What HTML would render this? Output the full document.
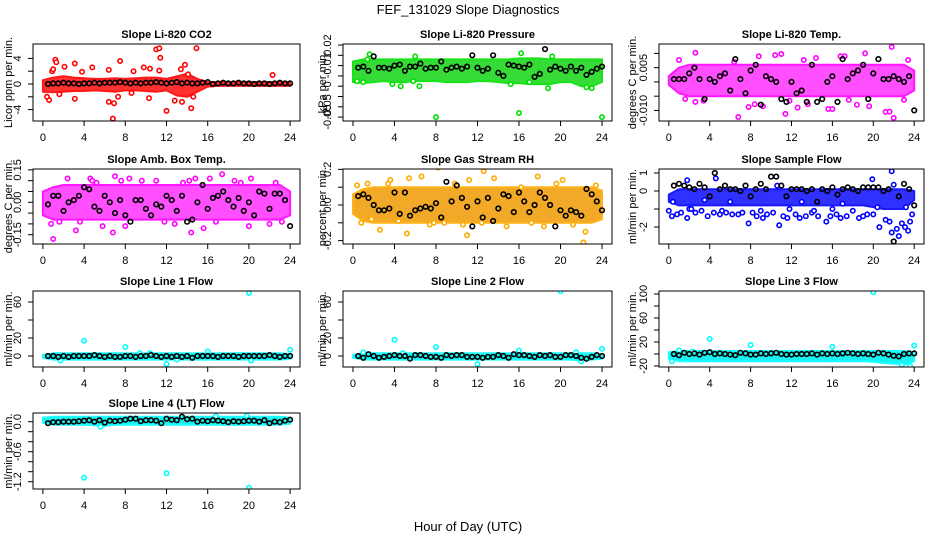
<!DOCTYPE html>
<html><head><meta charset="utf-8">
<style>
html,body{margin:0;padding:0;background:#fff;}
svg{display:block;font-family:"Liberation Sans",Arial,sans-serif;}
</style></head>
<body>
<svg id="chart" width="936" height="540" viewBox="0 0 936 540" xmlns="http://www.w3.org/2000/svg">
<rect width="936" height="540" fill="#fff"/>
<text x="468" y="14" font-size="13" text-anchor="middle">FEF_131029  Slope Diagnostics</text>
<text x="468" y="531" font-size="13" text-anchor="middle">Hour of Day (UTC)</text>
</svg>
<script>
// ---- shared categories ----
const hours = [0.5,1,1.5,2,2.5,3,3.5,4,4.5,5,5.5,6,6.5,7,7.5,8,8.5,9,9.5,10,10.5,11,11.5,12,12.5,13,13.5,14,14.5,15,15.5,16,16.5,17,17.5,18,18.5,19,19.5,20,20.5,21,21.5,22,22.5,23,23.5,24];
const bandHours = [0,1,2,3,4,5,6,7,8,9,10,11,12,13,14,15,16,17,18,19,20,21,22,23,24];
const xTicks = [0,4,8,12,16,20,24];

// ---- CO2 ----
const co2BandLo = [-1.2,-1.3,-1.2,-1.1,-1.1,-1.0,-1.1,-1.2,-1.0,-1.0,-1.1,-1.2,-1.0,-1.8,-2.0,-1.2,-0.4,-0.3,-0.3,-0.3,-0.3,-0.3,-0.3,-0.3,-0.3];
const co2BandHi = [0.6,1.0,1.2,1.0,0.9,0.8,0.8,0.9,0.8,0.9,1.0,1.0,0.8,1.2,1.6,0.8,0.3,0.3,0.3,0.3,0.3,0.3,0.3,0.3,0.3];
const co2OutX = [1.2,1.3,0.9,1.0,0.6,0.4,1.6,2.1,3.1,3.1,3.8,4.8,6.4,6.4,6.8,6.9,7.5,7.3,8.8,8.6,9.8,10.4,10.3,11.0,11.3,11.4,11.3,12.0,12.8,13.5,13.8,14.4,14.6,14.9,22.3,13.4,14.1];
const co2OutY = [3.8,3.4,2.0,2.3,-2.5,-2.0,-1.6,2.7,3.2,-2.3,1.9,2.6,2.2,-2.8,-5.4,-3.0,3.6,-2.0,2.0,-1.4,2.6,2.4,-2.2,5.4,5.6,4.1,2.1,-4.2,-2.6,-2.8,3.0,-3.8,-2.0,5.6,1.4,2.3,1.5];
const co2Black = [0,0.1,0.1,0.2,0.1,0.1,0,0.1,0.1,0.2,0.1,0.2,0.2,0.2,0.3,0.2,0.1,0.2,0.1,0.2,0.2,0.3,0.2,0.1,0.2,0.3,0.1,0.2,0.1,0.1,0.2,0.3,0,0.1,0.2,0.1,0.1,0.2,0.1,0.1,0,0.1,0.1,0,0.1,0.2,0.1,0.1];
const co2Ticks = [-4,-2,0,2,4];
const co2Labels = ["-4","","0","","4"];

// ---- Pressure ----
const prBandHi = [0.004,0.006,0.006,0.006,0.006,0.006,0.006,0.006,0.006,0.006,0.006,0.006,0.006,0.006,0.006,0.006,0.007,0.007,0.007,0.006,0.006,0.006,0.006,0.006,0.006];
const prBandLo = [-0.016,-0.017,-0.016,-0.015,-0.016,-0.016,-0.015,-0.015,-0.015,-0.016,-0.016,-0.016,-0.015,-0.015,-0.016,-0.017,-0.017,-0.018,-0.018,-0.018,-0.016,-0.016,-0.020,-0.020,-0.016];
const prOutX = [1.6,1.4,6.0,6.4,4.6,3.8,5.8,16.2,18.8,22.5,23.0,19.2,8.0,16.0,24.0,0.4,1.0,15.2,17.0];
const prOutY = [0.011,0.006,0.009,-0.020,-0.020,-0.018,-0.015,0.012,-0.022,-0.021,-0.022,0.009,-0.050,-0.046,-0.050,-0.015,-0.016,-0.018,-0.016];
const prBlack = [-0.002,-0.001,-0.005,0.009,-0.002,-0.002,-0.003,0,0.001,-0.005,-0.001,-0.001,0.002,-0.003,-0.002,-0.002,0.004,-0.004,-0.002,-0.001,-0.003,-0.001,0.010,-0.002,-0.005,-0.003,0.010,-0.007,-0.010,0.001,0,-0.001,-0.002,0.001,-0.011,-0.008,0.016,-0.004,-0.001,-0.003,-0.005,-0.001,-0.005,-0.002,-0.009,-0.006,-0.003,-0.001];
const prTicks = [0.02,0.01,0,-0.01,-0.02,-0.03,-0.04,-0.05];
const prLabels = ["0.02","","-0.01","","-0","","-0.05","-0.05"];

// ---- Li-820 Temp ----
const ltBandHi = [0.002,0.005,0.006,0.006,0.006,0.006,0.006,0.006,0.006,0.006,0.006,0.006,0.006,0.006,0.006,0.006,0.006,0.006,0.006,0.006,0.006,0.006,0.006,0.006,0.004];
const ltBandLo = [-0.001,-0.004,-0.005,-0.005,-0.005,-0.005,-0.005,-0.005,-0.005,-0.005,-0.005,-0.005,-0.005,-0.005,-0.005,-0.005,-0.005,-0.005,-0.005,-0.005,-0.005,-0.005,-0.005,-0.005,-0.003];
const ltOutX = [2.6,6.8,11.4,21.8,22.0,21.2,21.6,15.6,16.0,12.6,19.2,17.2,16.8,11.0,10.4,14.4,8.8,13.2,1.0,6.4,23.4,7.8,8.4,9.2,19.6,1.6,2.6,3.4,18.4,23.0,13.6,17.6,11.8];
const ltOutY = [0.0102,-0.0123,-0.0112,0.0123,-0.0126,-0.0105,-0.0104,-0.0095,-0.0095,-0.009,0.010,0.009,0.009,0.0098,0.0094,0.0084,0.009,0.0077,0.0077,0.007,0.0077,-0.0088,-0.0078,-0.0085,-0.0085,-0.006,-0.007,-0.0066,-0.008,-0.0063,-0.0078,-0.0063,-0.0066];
const ltBlack = [0.001,0.001,0.001,0.003,0.005,0.001,-0.006,0.001,0.000,0.002,0.003,-0.003,0.008,0.001,-0.004,0.004,0.006,-0.008,0.002,0.001,0.000,-0.006,-0.007,0.000,-0.004,-0.003,-0.007,0.006,-0.007,-0.006,0.000,0.002,-0.007,0.008,0.001,0.003,0.004,0.006,-0.006,0.003,0.008,0.001,0.001,0.002,0.001,0.000,0.002,-0.010];
const ltTicks = [0.01,0.005,0,-0.005,-0.01];
const ltLabels = ["","0.005","","","-0.010"];

// ---- Amb Box Temp ----
const abBandHi = [0.05,0.07,0.08,0.08,0.08,0.08,0.08,0.08,0.08,0.08,0.08,0.08,0.08,0.08,0.08,0.08,0.08,0.08,0.08,0.08,0.08,0.08,0.08,0.08,0.05];
const abBandLo = [-0.06,-0.08,-0.08,-0.08,-0.08,-0.08,-0.08,-0.08,-0.08,-0.08,-0.08,-0.08,-0.08,-0.08,-0.08,-0.08,-0.08,-0.08,-0.08,-0.08,-0.08,-0.08,-0.08,-0.08,-0.06];
const abOutX = [1.0,2.4,3.2,4.6,4.8,5.8,6.8,7.0,7.6,8.0,8.4,9.6,11.0,11.8,13.6,14.2,14.4,14.8,15.6,16.2,16.8,17.4,18.6,19.2,20.0,20.2,22.0,22.6,23.2,0.8,3.6,12.8,1.6,5.2];
const abOutY = [-0.17,0.11,-0.13,0.11,0.10,-0.11,-0.14,0.12,0.10,-0.11,0.11,0.10,0.10,-0.09,0.09,0.10,-0.14,0.11,-0.12,0.11,-0.09,0.13,0.10,0.09,-0.11,0.11,-0.10,0.09,-0.09,-0.10,-0.09,-0.10,-0.09,0.09];
const abBlack = [-0.01,0.03,0.03,-0.04,0.00,0.01,0.03,0.07,0.06,-0.02,-0.04,0.03,0.00,-0.05,0.01,-0.06,-0.09,0.01,0.01,-0.03,-0.06,-0.01,-0.02,0.03,0.01,-0.04,0.03,-0.09,-0.08,0.00,0.08,-0.03,0.02,0.03,0.05,0.01,-0.02,0.02,-0.04,0.00,-0.06,0.05,0.04,-0.03,0.04,0.04,0.01,-0.11];
const abTicks = [0.15,0.10,0.05,0,-0.05,-0.10,-0.15];
const abLabels = ["0.15","","","0.00","","","-0.15"];

// ---- Gas Stream RH ----
const rhBandHi = [0.06,0.09,0.10,0.10,0.10,0.10,0.10,0.10,0.10,0.10,0.10,0.10,0.10,0.10,0.10,0.10,0.10,0.10,0.10,0.10,0.10,0.10,0.10,0.10,0.08];
const rhBandLo = [-0.05,-0.09,-0.10,-0.10,-0.10,-0.10,-0.10,-0.10,-0.10,-0.10,-0.10,-0.10,-0.10,-0.10,-0.10,-0.10,-0.10,-0.10,-0.10,-0.10,-0.10,-0.10,-0.10,-0.10,-0.08];
const rhOutX = [8.2,12.6,11.0,5.2,22.2,22.4,2.6,17.8,13.6,20.2,5.4,0.4,1.4,1.8,3.6,4.4,6.6,7.4,8.8,9.8,10.6,11.2,12.4,14.8,16.2,17.2,18.4,19.6,21.2,23.4,0.8,3.4,7.8];
const rhOutY = [0.21,0.19,-0.17,-0.16,-0.21,-0.15,-0.14,0.16,0.15,0.14,0.15,0.11,0.12,-0.08,0.14,-0.09,0.16,-0.11,-0.10,0.12,-0.11,0.14,-0.10,-0.12,0.10,-0.10,-0.12,0.12,-0.11,0.11,-0.10,0.12,-0.10];
const rhBlack = [0.05,0.06,0.04,0.00,-0.03,-0.03,-0.02,0.07,-0.05,0.07,-0.06,-0.03,-0.02,-0.01,-0.02,0.01,-0.07,0.13,0.02,0.11,0.04,-0.01,-0.12,0.02,-0.07,0.04,-0.09,-0.02,0.06,0.05,-0.04,0.07,0.02,-0.04,0.00,0.07,0.04,0.00,-0.12,-0.03,-0.06,-0.03,-0.04,-0.06,0.09,0.06,0.02,-0.03];
const rhTicks = [0.2,0.1,0,-0.1,-0.2];
const rhLabels = ["0.2","","0.0","","-0.2"];

// ---- Sample Flow ----
const sfBandHi = [-0.2,0.1,0.1,0.1,0.1,0.1,0.1,0.1,0.1,0.1,0.1,0.1,0.1,0.1,0.1,0.1,0.1,0.1,0.1,0.1,0.1,0.1,0.1,0.1,0.0];
const sfBandLo = [-0.6,-0.8,-0.8,-0.8,-0.8,-0.8,-0.8,-0.8,-0.8,-0.8,-0.8,-0.8,-0.8,-0.8,-0.8,-0.8,-0.8,-0.8,-0.8,-0.8,-0.9,-1.0,-1.0,-1.0,-0.5];
const sfOutX = [0,0.3,0.8,1.2,1.8,2.0,2.6,3.2,3.8,4.4,4.6,5.0,5.6,6.2,6.8,7.8,8.2,8.6,9.2,9.6,10.2,10.8,11.2,11.6,12.4,12.8,13.4,14.0,14.6,15.4,15.8,16.4,16.8,17.4,18.6,19.0,19.4,19.9,20.0,20.6,21.2,21.6,21.8,22.0,21.8,22.3,22.5,22.8,23.1,23.4,23.6,1.8,0.4,3.5,6.0,10.6,13.0,17.0,20.4,23.2,23.8,2.2,5.2,7.2,9.0,11.8,14.2,16.0,18.0];
const sfOutY = [-1.1,-1.4,-1.3,-1.2,-1.5,-1.0,-1.2,-1.1,-1.4,-1.2,0.7,-1.3,-1.2,-1.3,-1.3,-1.8,-1.2,-1.4,-1.5,-1.3,-1.2,-1.9,-1.4,-1.5,-1.3,-1.5,-1.4,-1.2,-1.4,-1.7,-1.4,-1.3,-1.5,-1.4,-1.5,-1.4,-1.3,0.65,-1.3,-2.0,-1.6,-1.7,1.1,0.35,-2.3,-2.1,-2.5,-1.8,-2.0,-2.2,-1.7,0.6,-0.6,-0.5,-0.6,0.3,-0.6,-0.7,-0.9,-0.9,-1.3,-1.0,-1.1,-1.2,-1.1,-1.0,-1.1,-1.0,-1.1];
const sfBlack = [0.3,0.4,0.3,0.2,0.1,0.4,0.2,-0.3,1.0,0.1,0.3,0.1,0.1,0,0.3,-0.3,0.1,0.4,0.1,0.8,0.8,0.3,-0.3,0.1,0.1,0.1,0.0,0.1,-0.6,0.1,0.0,0.2,-0.2,0.1,0.2,0.1,0.0,0.2,0.2,0.2,0.2,0.0,0.1,-2.8,-0.3,0.4,0.1,-0.8];
const sfTicks = [1,0,-1,-2];
const sfLabels = ["1","0","","-2"];

// ---- Line 1 Flow ----
const l1BandHi = [1,3,3,3,3,3,3,3,3,3,3,3,3,3,3,3,3,3,3,3,3,3,3,3,2];
const l1BandLo = [-2,-4,-4,-4,-4,-4,-4,-4,-4,-4,-4,-4,-4,-4,-4,-4,-4,-4,-4,-4,-4,-4,-4,-4,-3];
const l1OutX = [4,8,20,12,24,16,1.7,9.4,10.4,13,20.2];
const l1OutY = [17,10,70,-9,7,5,-5,3,3,-4,-5];
const l1Black = [0,0,-1,0,-1,0,0,0,0,1,0,-1,0,-1,-1,0,0,-1,0,0,1,0,-1,0,-1,0,-1,0,-2,0,0,0,0,-1,0,0,0,-1,0,0,0,0,0,1,0,-1,0,0];
const l1Ticks = [0,20,40,60];
const l1Labels = ["0","20","","60"];

// ---- Line 2 Flow ----
const l2BandHi = [1,3,3,3,3,3,3,3,3,3,3,3,3,3,3,3,3,3,3,3,3,3,3,3,2];
const l2BandLo = [-2,-4,-4,-4,-4,-4,-4,-4,-4,-4,-4,-4,-4,-4,-4,-4,-4,-4,-4,-4,-4,-4,-5,-4,-3];
const l2OutX = [4,8,20,12,24,16,1,22,21.5,4.8];
const l2OutY = [18,10,72,-9,8,6,4,-6,4,3];
const l2Black = [0,-2,2,0,-2,-1,0,1,0,0,-3,1,1,0,-1,-1,-2,1,0,1,1,-1,-1,-1,-2,-1,-1,1,0,-2,2,1,1,0,-1,1,0,1,-1,-1,1,1,0,-2,-3,-1,1,0];
const l2Ticks = [0,20,40,60];
const l2Labels = ["0","20","","60"];

// ---- Line 3 Flow ----
const l3BandHi = [3,5,5,5,5,5,5,5,5,5,5,5,5,5,5,5,5,5,5,5,5,5,5,5,3];
const l3BandLo = [-8,-12,-12,-12,-12,-12,-12,-12,-12,-12,-12,-12,-12,-12,-12,-12,-12,-12,-12,-12,-13,-15,-16,-18,-12];
const l3OutX = [4,20,8,16,24,1,2.3,23.6,22.8,0.3];
const l3OutY = [25,103,15,12,14,6,4,-20,-18,-12];
const l3Black = [0,-2,2,0,1,-1,2,3,0,1,0,-1,-2,2,1,-1,-1,1,0,1,2,0,-1,-1,0,0,0,1,-1,1,0,1,0,1,2,1,0,1,0,-1,2,1,-1,-3,-4,0,1,1];
const l3Ticks = [-20,0,20,40,60,80,100];
const l3Labels = ["-20","","20","","60","","100"];

// ---- Line 4 (LT) Flow ----
const l4BandHi = [0.08,0.10,0.10,0.10,0.10,0.10,0.10,0.10,0.10,0.10,0.10,0.10,0.10,0.10,0.10,0.10,0.10,0.10,0.10,0.10,0.10,0.10,0.10,0.10,0.08];
const l4BandLo = [-0.02,-0.06,-0.06,-0.06,-0.06,-0.07,-0.08,-0.06,-0.06,-0.06,-0.06,-0.06,-0.06,-0.06,-0.06,-0.06,-0.06,-0.06,-0.06,-0.06,-0.06,-0.06,-0.06,-0.06,-0.04];
const l4OutX = [4,12,20,5.6,19.8,16.8];
const l4OutY = [-1.12,-1.03,-1.32,-0.1,0.12,0.11];
const l4Black = [-0.03,-0.01,-0.01,0,0,0,0.01,0.02,0.03,0,0.03,-0.02,0.02,0.01,0.02,0.04,0.06,0.06,0.01,0.03,0.03,0.02,-0.03,0.06,0.04,0.03,0.1,0.05,0.06,0,0.02,0.01,0.03,0.02,0.01,-0.01,0.01,0,0.01,0.02,0.02,0.0,0.03,-0.03,0,-0.01,0.02,0.04];
const l4Ticks = [0,-0.2,-0.4,-0.6,-0.8,-1.0,-1.2];
const l4Labels = ["0.0","","","-0.6","","","-1.2"];

// ---- layout (geometry & styles, not data) ----
const cols = [{x0:33,x1:300,yl:12},{x0:343,x1:612,yl:326},{x0:659,x1:924,yl:636}];
const rows = [{y0:44,y1:121},{y0:169,y1:244},{y0:291,y1:367},{y0:413,y1:489}];
const panels = [
 {name:'co2',title:'Slope Li-820 CO2',ylab:'Licor ppm per min.',c:0,r:0,vt:6.25,vb:-5.78,col:'#ff0000',band:'#ff1a1a',lo:co2BandLo,hi:co2BandHi,ox:co2OutX,oy:co2OutY,bk:co2Black,tk:co2Ticks,tl:co2Labels},
 {name:'pressure',title:'Slope Li-820 Pressure',ylab:'kPa per min.',c:1,r:0,vt:0.021,vb:-0.0538,col:'#00e000',band:'#22d822',lo:prBandLo,hi:prBandHi,ox:prOutX,oy:prOutY,bk:prBlack,tk:prTicks,tl:prLabels},
 {name:'li820-temp',title:'Slope Li-820 Temp.',ylab:'degrees C per min.',c:2,r:0,vt:0.0133,vb:-0.0137,col:'#ff00ff',band:'#ff3cff',lo:ltBandLo,hi:ltBandHi,ox:ltOutX,oy:ltOutY,bk:ltBlack,tk:ltTicks,tl:ltLabels},
 {name:'amb-box-temp',title:'Slope Amb. Box Temp.',ylab:'degrees C per min.',c:0,r:1,vt:0.154,vb:-0.193,col:'#ff00ff',band:'#ff3cff',lo:abBandLo,hi:abBandHi,ox:abOutX,oy:abOutY,bk:abBlack,tk:abTicks,tl:abLabels},
 {name:'gas-stream-rh',title:'Slope Gas Stream RH',ylab:'percent per min.',c:1,r:1,vt:0.202,vb:-0.219,col:'#ffaa00',band:'#f0a010',lo:rhBandLo,hi:rhBandHi,ox:rhOutX,oy:rhOutY,bk:rhBlack,tk:rhTicks,tl:rhLabels},
 {name:'sample-flow',title:'Slope Sample Flow',ylab:'ml/min per min.',c:2,r:1,vt:1.22,vb:-2.94,col:'#0000ff',band:'#1a1aff',lo:sfBandLo,hi:sfBandHi,ox:sfOutX,oy:sfOutY,bk:sfBlack,tk:sfTicks,tl:sfLabels},
 {name:'line1-flow',title:'Slope Line 1 Flow',ylab:'ml/min per min.',c:0,r:2,vt:72.2,vb:-12.2,col:'#00ffff',band:'#00f0f0',lo:l1BandLo,hi:l1BandHi,ox:l1OutX,oy:l1OutY,bk:l1Black,tk:l1Ticks,tl:l1Labels},
 {name:'line2-flow',title:'Slope Line 2 Flow',ylab:'ml/min per min.',c:1,r:2,vt:72.2,vb:-12.2,col:'#00ffff',band:'#00f0f0',lo:l2BandLo,hi:l2BandHi,ox:l2OutX,oy:l2OutY,bk:l2Black,tk:l2Ticks,tl:l2Labels},
 {name:'line3-flow',title:'Slope Line 3 Flow',ylab:'ml/min per min.',c:2,r:2,vt:105,vb:-21.7,col:'#00ffff',band:'#00f0f0',lo:l3BandLo,hi:l3BandHi,ox:l3OutX,oy:l3OutY,bk:l3Black,tk:l3Ticks,tl:l3Labels},
 {name:'line4-flow',title:'Slope Line 4 (LT) Flow',ylab:'ml/min per min.',c:0,r:3,vt:0.174,vb:-1.346,col:'#00ffff',band:'#00f0f0',lo:l4BandLo,hi:l4BandHi,ox:l4OutX,oy:l4OutY,bk:l4Black,tk:l4Ticks,tl:l4Labels}
];

const NS = 'http://www.w3.org/2000/svg';
const svg = document.getElementById('chart');
function mk(tag, attrs, parent){
  const e = document.createElementNS(NS, tag);
  for (const k in attrs) e.setAttribute(k, attrs[k]);
  (parent||svg).appendChild(e);
  return e;
}

panels.forEach(p => {
  const C = cols[p.c], R = rows[p.r];
  const xs = h => C.x0 + (h + 0.96) / 25.92 * (C.x1 - C.x0);
  const ys = v => R.y0 + (p.vt - v) / (p.vt - p.vb) * (R.y1 - R.y0);
  const g = mk('g', {});
  
  

  const clipId = 'clip-' + p.name;
  const cp = mk('clipPath', {id: clipId}, g);
  mk('rect', {x: C.x0, y: R.y0, width: C.x1 - C.x0, height: R.y1 - R.y0}, cp);
  const plot = mk('g', {'clip-path': 'url(#' + clipId + ')'}, g);
  
  

  let pts = [];
  bandHours.forEach((h, i) => pts.push(xs(h).toFixed(1) + ',' + ys(p.hi[i]).toFixed(1)));
  for (let i = bandHours.length - 1; i >= 0; i--) pts.push(xs(bandHours[i]).toFixed(1) + ',' + ys(p.lo[i]).toFixed(1));
  const band = mk('polygon', {points: pts.join(' '), fill: p.band, stroke: p.col, 'stroke-width': 2, 'stroke-linejoin': 'round', opacity: 0.9}, plot);
  
  

  p.ox.forEach((x, i) => {
    const c = mk('circle', {cx: xs(x).toFixed(1), cy: ys(p.oy[i]).toFixed(1), r: 2.2, fill: '#fff', stroke: p.col, 'stroke-width': 1.6}, plot);
    
    
  });
  hours.forEach((h, i) => {
    const c = mk('circle', {cx: xs(h).toFixed(1), cy: ys(p.bk[i]).toFixed(1), r: 2.3, fill: 'none', stroke: '#000', 'stroke-width': 1.6}, plot);
    
    
  });

  const box = mk('rect', {x: C.x0, y: R.y0, width: C.x1 - C.x0, height: R.y1 - R.y0, fill: 'none', stroke: '#000', 'stroke-width': 1}, g);
  
  

  xTicks.forEach(t => {
    const X = xs(t);
    const tl = mk('line', {x1: X, x2: X, y1: R.y1, y2: R.y1 + 5, stroke: '#000'}, g);
    
    
    const tx = mk('text', {x: X, y: R.y1 + 20, 'font-size': 11, 'text-anchor': 'middle'}, g);
    
    
    tx.textContent = String(t);
  });
  p.tk.forEach((t, i) => {
    const Y = ys(t);
    const tl = mk('line', {x1: C.x0 - 5, x2: C.x0, y1: Y, y2: Y, stroke: '#000'}, g);
    
    
    if (p.tl[i]) {
      const bx = C.x0 - 12;
      const tx = mk('text', {x: bx, y: Y, 'font-size': 11, 'text-anchor': 'middle', transform: 'rotate(-90 ' + bx + ' ' + Y + ')'}, g);
      
      
      tx.textContent = p.tl[i];
    }
  });
  const cy = (R.y0 + R.y1) / 2;
  const yl = mk('text', {x: C.yl, y: cy, 'font-size': 11, 'text-anchor': 'middle', transform: 'rotate(-90 ' + C.yl + ' ' + cy + ')'}, g);
  
  
  yl.textContent = p.ylab;
  const tt = mk('text', {x: (C.x0 + C.x1) / 2, y: R.y0 - 6, 'font-size': 11, 'font-weight': 'bold', 'text-anchor': 'middle'}, g);
  
  
  tt.textContent = p.title;
});
</script>
</body></html>
